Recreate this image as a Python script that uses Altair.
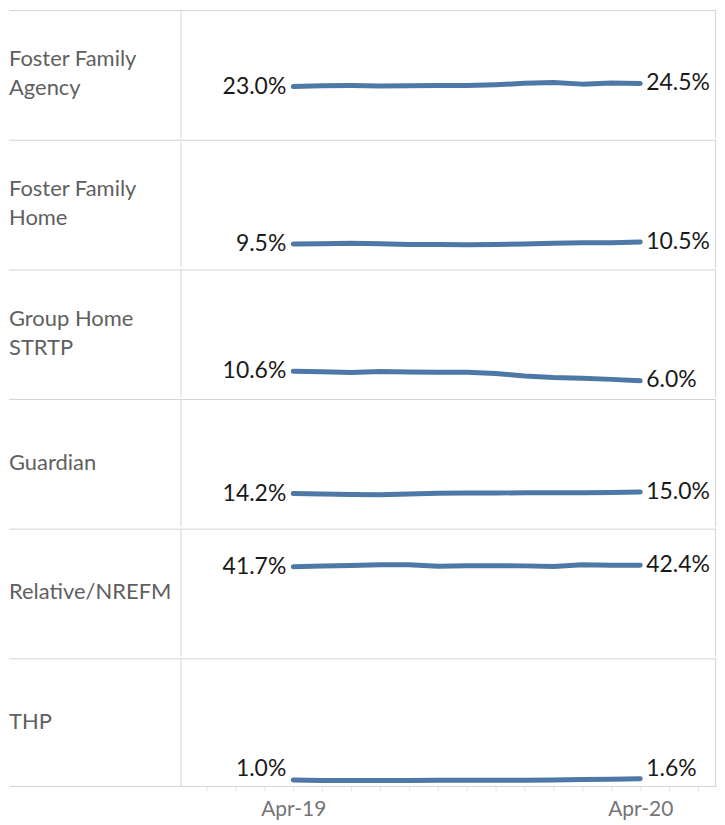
import altair as alt
import pandas as pd

categories = [
    "Foster Family Agency",
    "Foster Family Home",
    "Group Home STRTP",
    "Guardian",
    "Relative/NREFM",
    "THP",
]
category_labels = [
    "Foster Family\nAgency",
    "Foster Family\nHome",
    "Group Home\nSTRTP",
    "Guardian",
    "Relative/NREFM",
    "THP",
]
months = ["Apr-19", "May-19", "Jun-19", "Jul-19", "Aug-19", "Sep-19", "Oct-19",
          "Nov-19", "Dec-19", "Jan-20", "Feb-20", "Mar-20", "Apr-20"]

ffa = [23.0, 23.4, 23.5, 23.3, 23.4, 23.5, 23.5, 23.9, 24.6, 25.0, 24.2, 24.8, 24.5]
ffh = [9.5, 9.6, 9.9, 9.6, 9.2, 9.3, 9.1, 9.2, 9.5, 9.8, 10.1, 10.1, 10.5]
group_home = [10.6, 10.4, 10.1, 10.5, 10.3, 10.2, 10.2, 9.6, 8.3, 7.6, 7.3, 6.7, 6.0]
guardian = [14.2, 14.0, 13.8, 13.6, 14.0, 14.4, 14.5, 14.5, 14.6, 14.6, 14.6, 14.7, 15.0]
relative = [41.7, 42.0, 42.3, 42.7, 42.7, 41.9, 42.2, 42.2, 42.1, 41.8, 42.6, 42.4, 42.4]
thp = [1.0, 0.8, 0.8, 0.8, 0.8, 0.9, 0.9, 0.9, 0.9, 1.0, 1.2, 1.4, 1.6]
series = [ffa, ffh, group_home, guardian, relative, thp]

rows = []
for cat, lab, vals in zip(categories, category_labels, series):
    for i, (m, v) in enumerate(zip(months, vals)):
        rows.append({"category": cat, "label": lab, "month": m, "idx": i, "value": v})
df = pd.DataFrame(rows)

W = 709
H = 128
LAST = len(months) - 1
FONT = "Lato"
GRID = "#d4d4d4"
LINE_H = 29

tick_values = list(range(-3, LAST + 3))
label_expr = " : ".join(
    [f"datum.value == {i} ? '{months[i]}'" for i in (0, LAST)]
) + " : ''"

x_scale = alt.Scale(domain=[-9.83, 14.62], nice=False, zero=False)
bottom_axis = alt.Axis(
    values=tick_values, labelExpr=label_expr, title=None, grid=False,
    domainColor=GRID, tickColor="#e3e3e3", tickSize=5,
    labelFontSize=21, labelColor="#757575", labelFont=FONT,
    labelPadding=8, labelFlush=False,
)
y_scale = alt.Scale(domain=[-1.9, 60.2], nice=False, zero=False)
fmt = "format(datum.value, '.1f') + '%'"


def row_chart(cat, lab, show_axis):
    x_enc = alt.X("idx:Q", scale=x_scale, axis=bottom_axis if show_axis else None)
    base = alt.Chart().transform_filter(alt.datum.category == cat)

    line = base.mark_line(
        color="#4e79a7", strokeWidth=5, strokeCap="round", strokeJoin="round"
    ).encode(x=x_enc, y=alt.Y("value:Q", scale=y_scale, axis=None))

    start_lbl = base.transform_filter("datum.idx == 0").transform_calculate(
        txt=fmt, ly="max(datum.value, 6.3)"
    ).mark_text(
        align="right", baseline="middle", dx=-7, fontSize=23, font=FONT, color="#1a1a1a"
    ).encode(x=x_enc, y=alt.Y("ly:Q", scale=y_scale, axis=None), text="txt:N")

    end_lbl = base.transform_filter(f"datum.idx == {LAST}").transform_calculate(
        txt=fmt, ly="max(datum.value, 6.3)"
    ).mark_text(
        align="left", baseline="middle", dx=6, fontSize=23, font=FONT, color="#1a1a1a"
    ).encode(x=x_enc, y=alt.Y("ly:Q", scale=y_scale, axis=None), text="txt:N")

    n_lines = lab.count("\n") + 1
    cat_lbl = base.transform_filter("datum.idx == 0").mark_text(
        align="left", baseline="middle", lineBreak="\n", lineHeight=LINE_H,
        fontSize=22, font=FONT, color="#5f5f5f", dy=-(n_lines - 1) * LINE_H / 2
    ).encode(x=alt.value(0), y=alt.value(H / 2), text="label:N")

    top_rule = base.transform_filter("datum.idx == 0").mark_rule(
        color=GRID, strokeWidth=1
    ).encode(x=alt.value(0), x2=alt.value(W), y=alt.value(0.5))

    mid_rule = base.transform_filter("datum.idx == 0").mark_rule(
        color=GRID, strokeWidth=1
    ).encode(x=alt.value(172.5), y=alt.value(0), y2=alt.value(H))

    right_rule = base.transform_filter("datum.idx == 0").mark_rule(
        color=GRID, strokeWidth=1
    ).encode(x=alt.value(W - 0.5), y=alt.value(0), y2=alt.value(H))

    layers = [top_rule, mid_rule, right_rule, cat_lbl, line, start_lbl, end_lbl]
    return alt.layer(*layers, data=df).properties(width=W, height=H)


panels = [
    row_chart(cat, lab, i == len(categories) - 1)
    for i, (cat, lab) in enumerate(zip(categories, category_labels))
]

chart = alt.vconcat(*panels, spacing=0).properties(
    padding={"left": 0, "top": 0, "right": 0, "bottom": 0}
).configure_view(stroke=None)

chart.save("out.html", embed_options={"renderer": "svg", "actions": False})
